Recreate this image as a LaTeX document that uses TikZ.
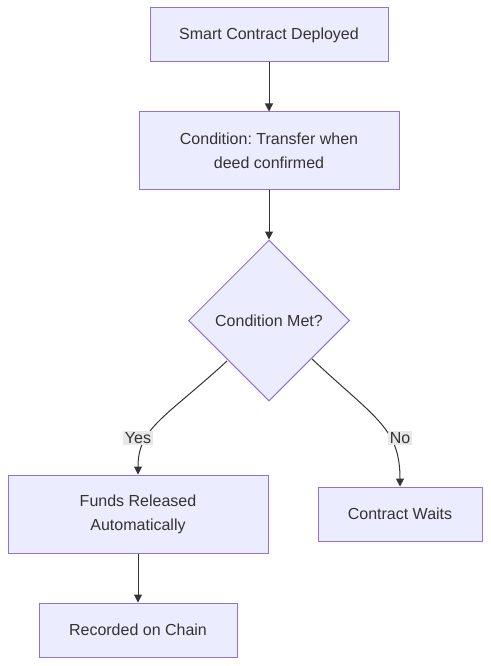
\documentclass[tikz,border=0pt]{standalone}
\usepackage{fontspec}
\setmainfont{Liberation Sans}
\usetikzlibrary{shapes.geometric,arrows.meta}
\definecolor{nodefill}{HTML}{ECECFF}
\definecolor{nodeline}{HTML}{9370DB}
\definecolor{edgeline}{HTML}{333333}
\definecolor{labelbg}{HTML}{E8E8E8}
\definecolor{txt}{HTML}{333333}
\frenchspacing
\begin{document}
\begin{tikzpicture}[x=1pt,y=-1pt,
  box/.style={draw=nodeline, fill=nodefill, line width=1pt, rectangle, inner sep=0pt,
    text=txt, font=\fontsize{16}{24}\selectfont, align=center},
  dia/.style={draw=nodeline, fill=nodefill, line width=1pt, diamond, inner sep=0pt,
    minimum width=161pt, minimum height=161pt, text=txt, font=\fontsize{16}{24}\selectfont},
  edge/.style={draw=edgeline, line width=1pt, -{Triangle[length=8pt,width=8pt]}},
  elabel/.style={fill=labelbg, text=txt, inner sep=1.5pt, font=\fontsize{16}{20}\selectfont}]
\useasboundingbox (0,0) rectangle (490,666);
\node[box, minimum width=238pt, minimum height=54pt] (A) at (269,35) {Smart Contract Deployed};
\node[box, minimum width=260pt, minimum height=77pt] (B) at (269,150.5) {Condition: Transfer when\\deed confirmed};
\node[dia] (C) at (269,320.5) {Condition Met?};
\node[box, minimum width=260pt, minimum height=78pt] (D) at (138,514) {Funds Released\\Automatically};
\node[box, minimum width=164pt, minimum height=54pt] (E) at (400,514) {Contract Waits};
\node[box, minimum width=198pt, minimum height=54pt] (F) at (138,630) {Recorded on Chain};
\coordinate (cl) at (227,361);
\coordinate (cr) at (312,359);
\draw[edge] (A) -- (B);
\draw[edge] (B) -- (C);
\draw[edge] (cl) .. controls (165,418) and (138,428) .. (D.north);
\draw[edge] (cr) .. controls (375,418) and (400,428) .. (E.north);
\draw[edge] (D) -- (F);
\node[elabel] (ly) at (138,438) {Yes};
\node[elabel] (ln) at (400,438) {No};
\end{tikzpicture}
\end{document}
